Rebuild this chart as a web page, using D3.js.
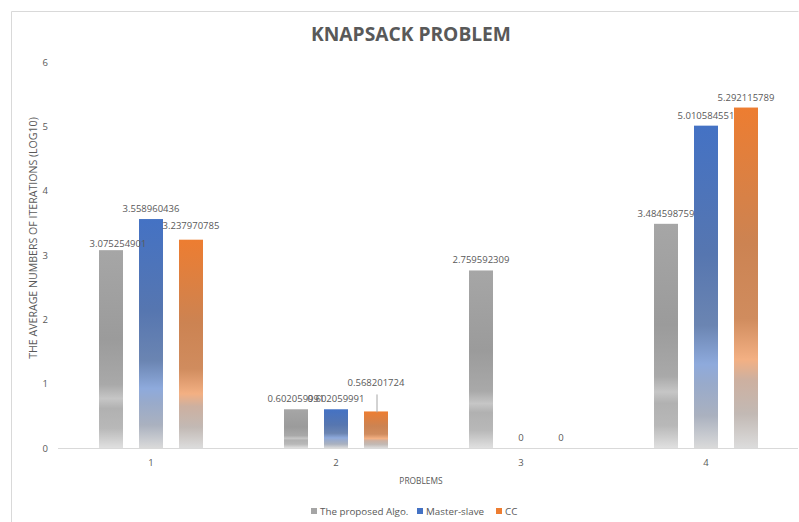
<!DOCTYPE html>
<html>
<head>
<meta charset="utf-8">
<script src="https://cdn.jsdelivr.net/npm/d3@7"></script>
<style>
  html, body { margin: 0; padding: 0; background: #fff; }
  svg { display: block; }
</style>
</head>
<body>
<svg id="chart" width="799" height="522"></svg>
<script>
// Problems and the three methods compared on each
const categories = ["1", "2", "3", "4"];
const seriesNames = ["The proposed Algo.", "Master-slave", "CC"];
const proposedAlgo = [3.075254901, 0.602059991, 2.759592309, 3.484598759];
const masterSlave = [3.558960436, 0.602059991, 0, 5.010584551];
const cc = [3.237970785, 0.568201724, 0, 5.292115789];
const yTicks = [0, 1, 2, 3, 4, 5, 6];

const seriesValues = [proposedAlgo, masterSlave, cc];

// vertical gradient stops for each series fill
const gradients = [
  [[0, "#a6a6a6"], [0.45, "#9b9b9b"], [0.68, "#a9a9a9"], [0.75, "#c6c6c6"], [0.8, "#b1b1b1"], [0.9, "#b8b8b8"], [1, "#e0e0e0"]],
  [[0, "#4472c4"], [0.4, "#5676b0"], [0.62, "#6b85b2"], [0.74, "#8eaadc"], [0.8, "#98aacb"], [0.9, "#aab1bf"], [1, "#dadada"]],
  [[0, "#ed7d31"], [0.4, "#cc8352"], [0.62, "#d08c5e"], [0.74, "#f3b083"], [0.8, "#cdb0a0"], [0.9, "#c2b9b4"], [1, "#dcdcdc"]]
];
const legendSwatch = ["#a5a5a5", "#4472c4", "#ed7d31"];

const svg = d3.select("#chart");
const textColor = "#595959";
const font = "'Open Sans', 'Liberation Sans', sans-serif";

// chart frame
svg.append("path")
  .attr("d", "M11.5,522 V11.5 H798.5")
  .attr("fill", "none").attr("stroke", "#d9d9d9").attr("stroke-width", 1);

const defs = svg.append("defs");
gradients.forEach((stops, i) => {
  const g = defs.append("linearGradient")
    .attr("id", "grad" + i)
    .attr("x1", 0).attr("y1", 0).attr("x2", 0).attr("y2", 1);
  stops.forEach(([o, c]) => g.append("stop").attr("offset", o).attr("stop-color", c));
});

const x0 = d3.scaleBand().domain(categories).range([58.5, 798.5]).paddingInner(0).paddingOuter(0);
const x1 = d3.scaleBand().domain(d3.range(seriesNames.length))
  .range([x0.bandwidth() / 2 - 52, x0.bandwidth() / 2 + 52]).paddingInner(0.4).paddingOuter(0);
const y = d3.scaleLinear().domain([0, 6]).range([448, 62]);

// title
svg.append("text")
  .attr("x", 411).attr("y", 41)
  .attr("text-anchor", "middle")
  .attr("font-family", font).attr("font-weight", "bold")
  .attr("font-size", 19.2).attr("fill", textColor)
  .text("KNAPSACK PROBLEM");

// y axis tick labels
const yAxis = d3.axisLeft(y).tickValues(yTicks).tickSize(0).tickPadding(0).tickFormat(d3.format("d"));
const ya = svg.append("g").attr("transform", "translate(48,0)").call(yAxis);
ya.select(".domain").remove();
ya.selectAll("text").attr("font-family", font).attr("font-size", 9.5).attr("fill", textColor);

// y axis title
svg.append("text")
  .attr("transform", "translate(37,238) rotate(-90)")
  .attr("text-anchor", "middle")
  .attr("font-family", font).attr("font-size", 10.6).attr("fill", textColor)
  .text("THE AVERAGE NUMBERS OF ITERATIONS (LOG10)");

// bars
const groups = svg.append("g").selectAll("g")
  .data(categories)
  .join("g")
  .attr("transform", d => `translate(${x0(d)},0)`);

const barData = (c, ci) => seriesValues.map((vals, si) => ({ si, ci, v: vals[ci] }));

groups.selectAll("rect")
  .data((c, ci) => barData(c, ci))
  .join("rect")
  .attr("x", d => x1(d.si))
  .attr("width", x1.bandwidth())
  .attr("y", d => y(d.v))
  .attr("height", d => y(0) - y(d.v))
  .attr("fill", d => "url(#grad" + d.si + ")");

// x axis baseline
svg.append("line")
  .attr("x1", 58).attr("x2", 798).attr("y1", 448.5).attr("y2", 448.5)
  .attr("stroke", "#d9d9d9").attr("stroke-width", 1);

// category labels
const xAxis = d3.axisBottom(x0).tickSize(0).tickPadding(0);
const xa = svg.append("g").attr("transform", "translate(0,459)").call(xAxis);
xa.select(".domain").remove();
xa.selectAll("text").attr("font-family", font).attr("font-size", 9.5).attr("fill", textColor);

svg.append("text")
  .attr("x", 421).attr("y", 484)
  .attr("text-anchor", "middle")
  .attr("font-family", font).attr("font-size", 8.4).attr("fill", textColor)
  .text("PROBLEMS");

// value labels; a few are nudged to clear neighbours, one uses a leader line
const labelLift = { "0-0": 3, "0-2": 11, "1-2": 25 };
const labelShift = { "0-0": 7 };
groups.each(function (c, ci) {
  const g = d3.select(this);
  barData(c, ci).forEach(d => {
    const key = ci + "-" + d.si;
    const cx = x1(d.si) + x1.bandwidth() / 2;
    const top = y(d.v);
    const lift = labelLift[key] ?? 7;
    if (lift > 15) {
      g.append("line")
        .attr("x1", cx + 1).attr("x2", cx + 1)
        .attr("y1", top - 17).attr("y2", top + 1)
        .attr("stroke", "#a6a6a6").attr("stroke-width", 1);
    }
    g.append("text")
      .attr("x", cx + (labelShift[key] ?? 0)).attr("y", top - lift)
      .attr("text-anchor", "middle")
      .attr("font-family", font).attr("font-size", 9.5).attr("fill", textColor)
      .text(String(d.v));
  });
});

// legend
const legendX = [311, 417, 496];
const lg = svg.append("g");
seriesNames.forEach((name, i) => {
  lg.append("rect")
    .attr("x", legendX[i]).attr("y", 508).attr("width", 6).attr("height", 6)
    .attr("fill", legendSwatch[i]);
  lg.append("text")
    .attr("x", legendX[i] + 9).attr("y", 514.5)
    .attr("font-family", font).attr("font-size", 9.8).attr("fill", textColor)
    .text(name);
});
</script>
</body>
</html>
